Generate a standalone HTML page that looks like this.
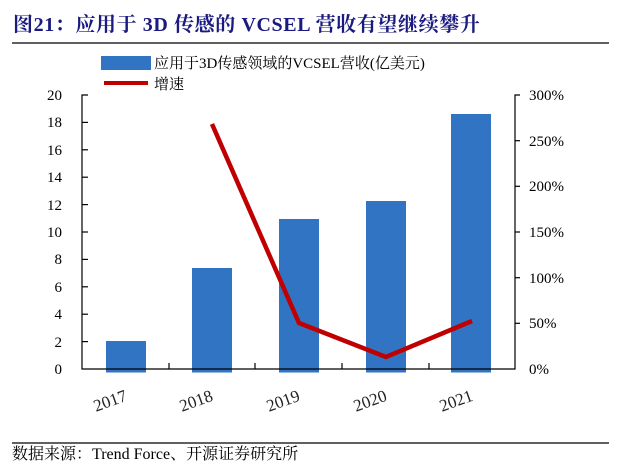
<!DOCTYPE html>
<html><head><meta charset="utf-8"><style>
body{margin:0;background:#fff;width:638px;height:473px;overflow:hidden}
svg{display:block}
</style></head><body>
<svg width="638" height="473" xmlns="http://www.w3.org/2000/svg" font-family="'Liberation Serif','Noto Serif CJK SC',serif">
<text x="13" y="31" font-size="20" font-weight="bold" fill="#1a1a80" letter-spacing="0.6" font-family="'Liberation Serif','Noto Serif CJK SC',serif">图21：应用于 3D 传感的 VCSEL 营收有望继续攀升</text>
<line x1="12" y1="43" x2="609" y2="43" stroke="#000" stroke-width="1.3"/>
<rect x="101" y="56" width="50" height="14" fill="#3174c4"/>
<text x="154" y="68" font-size="15">应用于3D传感领域的VCSEL营收(亿美元)</text>
<line x1="104" y1="83" x2="148" y2="83" stroke="#c00000" stroke-width="4"/>
<text x="154" y="89" font-size="15">增速</text>
<g font-size="15" text-anchor="end">
<text x="62" y="100">20</text><text x="62" y="127">18</text><text x="62" y="155">16</text><text x="62" y="182">14</text><text x="62" y="210">12</text><text x="62" y="237">10</text><text x="62" y="264">8</text><text x="62" y="292">6</text><text x="62" y="319">4</text><text x="62" y="347">2</text><text x="62" y="374">0</text>
</g>
<g font-size="15">
<text x="529" y="100">300%</text><text x="529" y="146">250%</text><text x="529" y="191">200%</text><text x="529" y="237">150%</text><text x="529" y="283">100%</text><text x="529" y="328">50%</text><text x="529" y="374">0%</text>
</g>
<g fill="#3174c4">
<rect x="106" y="341" width="40" height="31.5"/>
<rect x="192" y="268" width="40" height="104.5"/>
<rect x="279" y="219" width="40" height="153.5"/>
<rect x="366" y="201" width="40" height="171.5"/>
<rect x="451" y="114" width="40" height="258.5"/>
</g>
<g stroke="#000" stroke-width="1.2" fill="none">
<polyline points="88,95 82,95 82,369 515,369 515,95 520,95"/>
<line x1="82" y1="122.4" x2="88" y2="122.4"/><line x1="82" y1="149.8" x2="88" y2="149.8"/><line x1="82" y1="177.2" x2="88" y2="177.2"/><line x1="82" y1="204.6" x2="88" y2="204.6"/><line x1="82" y1="232" x2="88" y2="232"/><line x1="82" y1="259.4" x2="88" y2="259.4"/><line x1="82" y1="286.8" x2="88" y2="286.8"/><line x1="82" y1="314.2" x2="88" y2="314.2"/><line x1="82" y1="341.6" x2="88" y2="341.6"/>
<line x1="515" y1="140.7" x2="520" y2="140.7"/><line x1="515" y1="186.3" x2="520" y2="186.3"/><line x1="515" y1="232" x2="520" y2="232"/><line x1="515" y1="277.7" x2="520" y2="277.7"/><line x1="515" y1="323.3" x2="520" y2="323.3"/>
<line x1="169" y1="369" x2="169" y2="363"/><line x1="255" y1="369" x2="255" y2="363"/><line x1="342" y1="369" x2="342" y2="363"/><line x1="429" y1="369" x2="429" y2="363"/>
</g>
<polyline points="212,124 299,323 386,357 472,321" fill="none" stroke="#c00000" stroke-width="4.5" stroke-linejoin="miter"/>
<g font-size="17" fill="#222" text-anchor="middle">
<text transform="translate(112,406) rotate(-20)">2017</text>
<text transform="translate(198,406) rotate(-20)">2018</text>
<text transform="translate(285,406) rotate(-20)">2019</text>
<text transform="translate(372,406) rotate(-20)">2020</text>
<text transform="translate(458,406) rotate(-20)">2021</text>
</g>
<line x1="12" y1="443" x2="609" y2="443" stroke="#000" stroke-width="1.2"/>
<text x="12" y="459" font-size="16">数据来源：Trend Force、开源证券研究所</text>
</svg>
</body></html>
